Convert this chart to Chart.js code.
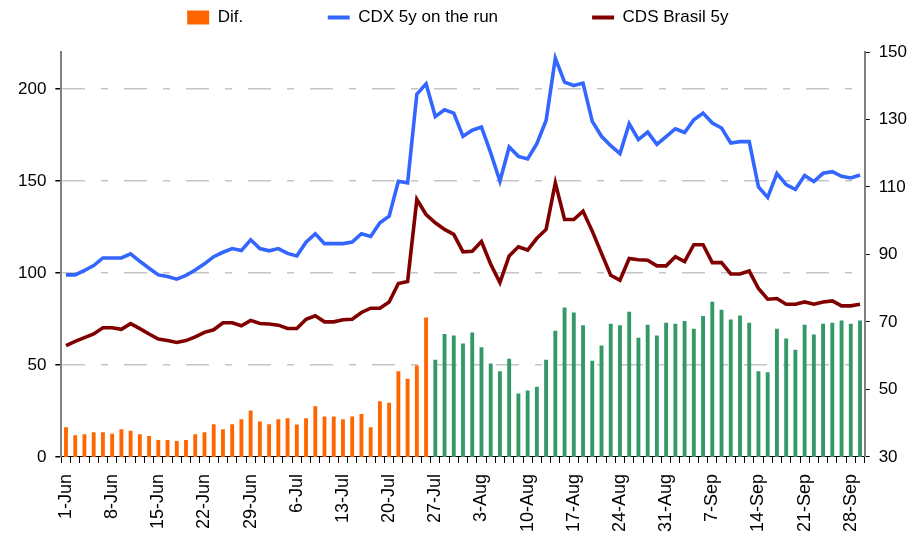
<!DOCTYPE html>
<html>
<head>
<meta charset="utf-8">
<script src="https://cdn.jsdelivr.net/npm/chart.js@4.4.1/dist/chart.umd.min.js"></script>
<style>
  body { margin: 0; background: #fff; }
</style>
</head>
<body>
<canvas id="grafico" width="922" height="537"></canvas>
<script>
// Dados //
const dias = [
  '1-Jun', '4-Jun', '5-Jun', '6-Jun', '7-Jun', '8-Jun', '11-Jun', '12-Jun', '13-Jun', '14-Jun',
  '15-Jun', '18-Jun', '19-Jun', '20-Jun', '21-Jun', '22-Jun', '25-Jun', '26-Jun', '27-Jun', '28-Jun',
  '29-Jun', '2-Jul', '3-Jul', '4-Jul', '5-Jul', '6-Jul', '9-Jul', '10-Jul', '11-Jul', '12-Jul',
  '13-Jul', '16-Jul', '17-Jul', '18-Jul', '19-Jul', '20-Jul', '23-Jul', '24-Jul', '25-Jul', '26-Jul',
  '27-Jul', '30-Jul', '31-Jul', '1-Aug', '2-Aug', '3-Aug', '6-Aug', '7-Aug', '8-Aug', '9-Aug',
  '10-Aug', '13-Aug', '14-Aug', '15-Aug', '16-Aug', '17-Aug', '20-Aug', '21-Aug', '22-Aug', '23-Aug',
  '24-Aug', '27-Aug', '28-Aug', '29-Aug', '30-Aug', '31-Aug', '3-Sep', '4-Sep', '5-Sep', '6-Sep',
  '7-Sep', '10-Sep', '11-Sep', '12-Sep', '13-Sep', '14-Sep', '17-Sep', '18-Sep', '19-Sep', '20-Sep',
  '21-Sep', '24-Sep', '25-Sep', '26-Sep', '27-Sep', '28-Sep', '1-Oct'
];

const cdx = [
  98.9, 98.9, 101.3, 104.0, 108.1, 108.1, 108.1, 110.3, 106.3, 102.5,
  98.9, 98.0, 96.6, 98.6, 101.6, 104.9, 108.8, 111.2, 113.2, 112.1,
  118.0, 113.2, 112.0, 113.2, 110.6, 109.2, 116.7, 121.3, 115.9, 115.9,
  115.9, 116.7, 121.3, 119.8, 127.2, 130.8, 149.8, 148.9, 197.1, 202.7,
  185.0, 188.6, 186.8, 174.2, 177.5, 179.2, 165.2, 149.8, 168.4, 163.3,
  161.9, 170.2, 182.8, 216.6, 203.6, 201.8, 203.1, 182.3, 174.2, 169.1,
  164.8, 181.0, 172.4, 176.5, 169.8, 174.0, 178.3, 176.3, 183.2, 186.8,
  181.4, 178.7, 170.6, 171.3, 171.3, 146.7, 141.0, 154.0, 148.0, 145.3,
  152.9, 149.6, 154.1, 155.0, 152.5, 151.6, 153.2
];

const cdsBrasil = [
  60.5, 62.8, 64.8, 66.8, 70.2, 70.2, 69.3, 72.4, 69.7, 66.8,
  64.1, 63.3, 62.2, 63.2, 65.2, 67.7, 69.1, 72.9, 72.9, 71.3,
  74.2, 72.5, 72.2, 71.6, 69.8, 69.8, 74.8, 76.7, 73.4, 73.4,
  74.5, 74.8, 78.5, 80.8, 80.8, 84.2, 94.2, 95.3, 139.9, 131.7,
  127.2, 123.6, 120.9, 111.4, 111.7, 117.0, 104.7, 94.7, 109.2, 114.2,
  112.4, 118.8, 123.6, 148.9, 129.0, 129.0, 133.5, 122.7, 110.6, 98.7,
  96.0, 107.8, 107.1, 106.9, 103.8, 103.8, 108.8, 106.1, 115.3, 115.3,
  105.6, 105.6, 99.4, 99.4, 101.0, 91.5, 85.7, 86.1, 83.0, 83.0,
  84.2, 83.0, 84.2, 84.8, 82.1, 82.1, 83.0
];

const dif = [
  38.8, 36.4, 36.7, 37.3, 37.3, 36.9, 38.2, 37.8, 36.7, 36.2,
  35.0, 35.0, 34.7, 35.0, 36.7, 37.3, 39.7, 38.2, 39.7, 41.2,
  43.8, 40.5, 39.7, 41.2, 41.5, 39.6, 41.5, 45.0, 42.0, 42.0,
  41.2, 42.0, 42.7, 38.8, 46.5, 46.1, 55.4, 53.2, 57.1, 71.3,
  58.8, 66.4, 66.0, 63.6, 66.9, 62.5, 57.7, 55.4, 59.1, 48.8,
  49.7, 50.8, 58.8, 67.4, 74.3, 72.8, 69.0, 58.5, 63.0, 69.5,
  69.0, 73.0, 65.3, 69.2, 66.0, 69.8, 69.5, 70.3, 68.0, 71.8,
  76.0, 73.6, 70.7, 71.9, 69.8, 55.4, 55.1, 68.0, 65.1, 61.8,
  69.2, 66.3, 69.5, 69.8, 70.4, 69.5, 70.4
];

const ticksEsq = [0, 50, 100, 150, 200];
const ticksDir = [30, 50, 70, 90, 110, 130, 150];
const ultimoLaranja = '26-Jul';

// Cores //
const LARANJA = '#FF6600';
const VERDE = '#339966';
const AZUL = '#3366FF';
const VINHO = '#800000';
const FONTE = { family: '"Liberation Sans", Arial, sans-serif', size: 17 };
const FONTE_X = { family: '"Liberation Sans", Arial, sans-serif', size: 18 };

// espacos extras na legenda pra afastar os itens
const espacos = ['\u00a0'.repeat(16), '\u00a0'.repeat(18), '\u00a0'.repeat(2)];

const corte = dias.indexOf(ultimoLaranja);

Chart.defaults.font = FONTE;
Chart.defaults.color = '#000';

// mais espaco entre a legenda e o grafico
const folgaLegenda = {
  id: 'folgaLegenda',
  beforeInit(chart) {
    const fitOriginal = chart.legend.fit;
    chart.legend.fit = function () {
      fitOriginal.bind(chart.legend)();
      this.height += 16;
    };
  }
};

const ctx = document.getElementById('grafico');

new Chart(ctx, {
  data: {
    labels: dias,
    datasets: [
      {
        type: 'bar',
        label: 'Dif.',
        data: dif,
        yAxisID: 'y1',
        backgroundColor: c => (c.dataIndex <= corte ? LARANJA : VERDE),
        barPercentage: 0.42,
        categoryPercentage: 1,
        order: 3
      },
      {
        type: 'line',
        label: 'CDX 5y on the run',
        data: cdx,
        yAxisID: 'y',
        borderColor: AZUL,
        backgroundColor: AZUL,
        borderWidth: 3.6,
        pointRadius: 0,
        tension: 0,
        order: 2
      },
      {
        type: 'line',
        label: 'CDS Brasil 5y',
        data: cdsBrasil,
        yAxisID: 'y',
        borderColor: VINHO,
        backgroundColor: VINHO,
        borderWidth: 3.6,
        pointRadius: 0,
        tension: 0,
        order: 1
      }
    ]
  },
  plugins: [folgaLegenda],
  options: {
    responsive: false,
    devicePixelRatio: 1,
    animation: false,
    layout: {
      padding: { left: 9, right: 6, top: 0, bottom: -6 }
    },
    plugins: {
      tooltip: { enabled: false },
      legend: {
        position: 'top',
        labels: {
          usePointStyle: true,
          pointStyleWidth: 22,
          boxHeight: 14,
          padding: 9,
          font: FONTE,
          generateLabels: chart => chart.data.datasets.map((ds, i) => ({
            text: ds.label + espacos[i],
            fillStyle: ds.type === 'bar' ? LARANJA : ds.borderColor,
            strokeStyle: ds.type === 'bar' ? LARANJA : ds.borderColor,
            lineWidth: ds.type === 'bar' ? 0 : 4,
            pointStyle: ds.type === 'bar' ? 'rect' : 'line',
            hidden: false,
            datasetIndex: i
          }))
        }
      }
    },
    scales: {
      x: {
        type: 'category',
        offset: true,
        grid: {
          display: true,
          drawOnChartArea: false,
          drawTicks: true,
          tickLength: 6,
          tickColor: '#000',
          offset: true
        },
        border: { color: '#000', width: 1 },
        ticks: {
          autoSkip: false,
          minRotation: 90,
          maxRotation: 90,
          padding: 11,
          font: FONTE_X,
          callback: (v, i) => (i % 5 === 0 ? dias[i] : '')
        }
      },
      y: {
        position: 'left',
        min: 0,
        max: 220,
        afterBuildTicks: s => { s.ticks = ticksEsq.map(v => ({ value: v })); },
        grid: {
          color: c => (c.tick && c.tick.value === 0 ? 'rgba(0,0,0,0)' : '#c4c4c4'),
          lineWidth: 1.5,
          tickColor: '#000',
          tickLength: 6,
          tickBorderDash: []
        },
        border: { color: '#808080', width: 2, dash: [23, 16, 7, 16] },
        ticks: { padding: 9, font: FONTE }
      },
      y1: {
        position: 'right',
        min: 30,
        max: 150,
        afterBuildTicks: s => { s.ticks = ticksDir.map(v => ({ value: v })); },
        grid: {
          drawOnChartArea: false,
          tickColor: '#000',
          tickLength: 5
        },
        border: { color: '#808080', width: 2 },
        ticks: { padding: 9, font: FONTE }
      }
    }
  }
});
</script>
</body>
</html>
